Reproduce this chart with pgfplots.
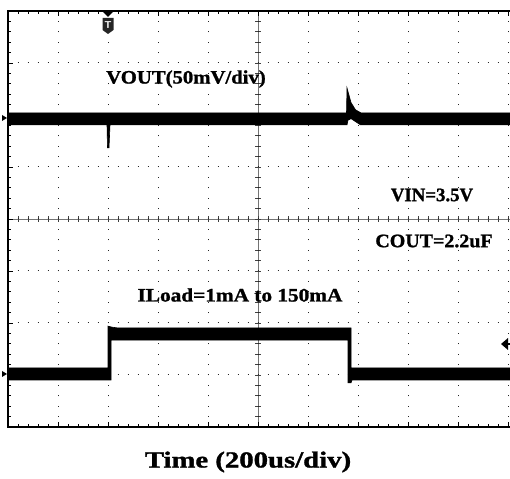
\documentclass[border=0pt]{standalone}
\usepackage{pgfplots}
\pgfplotsset{compat=1.18}
\usepackage{fontspec}
\setmainfont{Liberation Serif}[BoldFont={Liberation Serif Bold}, BoldFeatures={FakeBold=1.2}]
\newcommand{\lbl}[2]{\scalebox{#1}[1]{\bfseries\fontsize{19}{19}\selectfont #2}}
\begin{document}
\begin{tikzpicture}
\useasboundingbox (0pt,0pt) rectangle (510pt,478pt);
% centre crosshair
\draw[black!55, line width=0.7pt] (8pt,259pt) -- (511pt,259pt);
\draw[black!55, line width=0.7pt] (258pt,51pt) -- (258pt,467pt);
\foreach \i in {0,...,50} {\draw[black!75, line width=0.7pt] ({8pt+10pt*\i},256pt) -- ({8pt+10pt*\i},262pt);}
\foreach \i in {0,...,40} {\draw[black!75, line width=0.7pt] (255pt,{51pt+10.4pt*\i}) -- (261pt,{51pt+10.4pt*\i});}
\begin{axis}[
  at={(8pt,51pt)}, anchor=south west, scale only axis,
  width=503pt, height=416pt,
  xmin=0, xmax=10.06, ymin=0, ymax=8,
  xtick={0,...,10}, ytick={0,...,8},
  minor x tick num=4, minor y tick num=4,
  xticklabels={}, yticklabels={},
  tick align=inside, xtick pos=both, ytick pos=left,
  major tick length=5pt, minor tick length=3pt,
  every tick/.style={black, line width=0.8pt},
  grid=major,
  x grid style={black!85, line width=1pt, dash pattern=on 1pt off 9.4pt, dash phase=0.5pt},
  y grid style={black!85, line width=1pt, dash pattern=on 1pt off 9pt, dash phase=0.5pt},
  axis line style={line width=2pt},
  clip=false,
]
% VOUT trace
\addplot[fill=black, draw=black, line width=0.6pt] coordinates {
 (0,6.04) (6.77,6.04) (6.78,6.52) (6.80,6.45) (6.86,6.24) (6.95,6.10) (7.06,6.04) (10.06,6.04)
 (10.06,5.81) (7.05,5.81) (6.86,5.93) (6.80,5.90) (6.78,5.81)
 (2.04,5.81) (2.02,5.37) (1.99,5.37) (1.98,5.81) (0,5.81) (0,6.04)};
% ILoad trace
\addplot[fill=black, draw=black, line width=0.6pt] coordinates {
 (0,1.135) (2.00,1.135) (2.00,1.94) (2.08,1.92) (2.20,1.904) (6.86,1.904) (6.86,1.135) (10.06,1.135)
 (10.06,0.904) (6.88,0.904) (6.86,0.85) (6.80,0.85) (6.80,1.673)
 (2.06,1.673) (2.06,0.904) (0,0.904) (0,1.135)};
\end{axis}
% trigger marker
\fill (103pt,466pt) -- (113pt,466pt) -- (108pt,461pt) -- cycle;
\fill[black!85] (102.5pt,460pt) -- (113.5pt,460pt) -- (113.5pt,448pt) -- (108pt,444pt) -- (102.5pt,448pt) -- cycle;
\node[white, font=\bfseries\sffamily\fontsize{10}{10}\selectfont] at (108pt,453pt) {T};
% channel markers
\fill (2pt,363pt) -- (7pt,360pt) -- (2pt,357pt) -- cycle;
\fill (2pt,107pt) -- (7pt,104pt) -- (2pt,101pt) -- cycle;
\fill (501pt,134pt) -- (508pt,140pt) -- (508pt,128pt) -- cycle;
\draw[line width=2pt] (507pt,134pt) -- (511pt,134pt);
% annotations
\node at (186pt,399pt) {\lbl{1.09}{VOUT(50mV/div)}};
\node at (432pt,283pt) {\lbl{0.99}{VIN=3.5V}};
\node at (434pt,237pt) {\lbl{1.05}{COUT=2.2uF}};
\node at (240pt,183pt) {\lbl{1.12}{ILoad=1mA to 150mA}};
\node at (248pt,16pt) {\scalebox{1.25}[1]{\bfseries\fontsize{23}{23}\selectfont Time (200us/div)}};
\end{tikzpicture}
\end{document}
